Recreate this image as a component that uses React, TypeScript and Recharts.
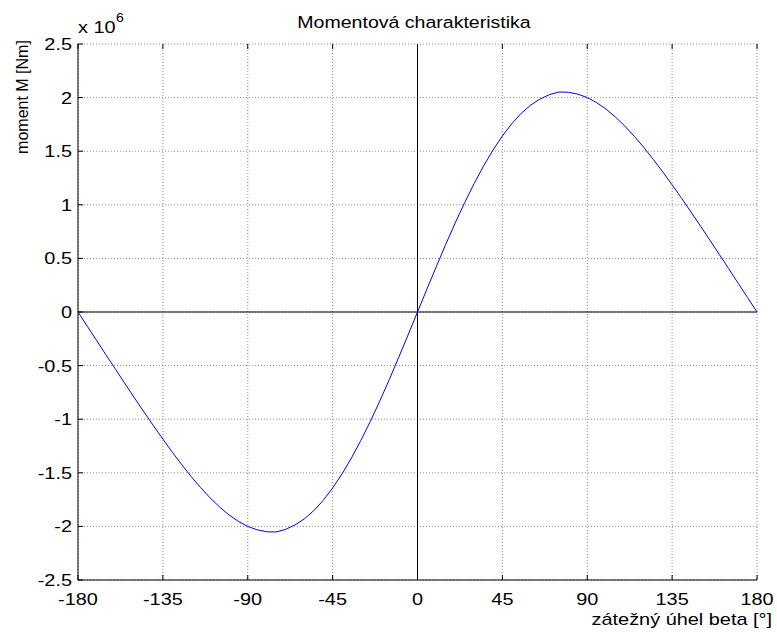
import React from "react";
import {
  LineChart,
  Line,
  XAxis,
  YAxis,
  CartesianGrid,
  ReferenceLine,
} from "recharts";

// zátežný úhel beta [°]
const BETA = [
  -180, -175, -170, -165, -160, -155, -150, -145, -140, -135, -130, -125,
  -120, -115, -110, -105, -100, -95, -90, -85, -80, -75, -70, -65,
  -60, -55, -50, -45, -40, -35, -30, -25, -20, -15, -10, -5,
  0, 5, 10, 15, 20, 25, 30, 35, 40, 45, 50, 55,
  60, 65, 70, 75, 80, 85, 90, 95, 100, 105, 110, 115,
  120, 125, 130, 135, 140, 145, 150, 155, 160, 165, 170, 175, 180,
];

// moment M [Nm] x 10^6
const MOMENT = [
  0, -0.135, -0.269, -0.404, -0.537, -0.671, -0.803, -0.933, -1.061, -1.186, -1.308, -1.424,
  -1.535, -1.638, -1.733, -1.818, -1.892, -1.953, -2.0, -2.032, -2.05, -2.052, -2.028, -1.987,
  -1.93, -1.853, -1.757, -1.642, -1.51, -1.361, -1.197, -1.02, -0.831, -0.632, -0.425, -0.214,
  0, 0.214, 0.425, 0.632, 0.831, 1.02, 1.197, 1.361, 1.51, 1.642, 1.757, 1.853,
  1.93, 1.987, 2.028, 2.052, 2.05, 2.032, 2.0, 1.953, 1.892, 1.818, 1.733, 1.638,
  1.535, 1.424, 1.308, 1.186, 1.061, 0.933, 0.803, 0.671, 0.537, 0.404, 0.269, 0.135, 0,
];

const X_TICKS = [-180, -135, -90, -45, 0, 45, 90, 135, 180];
const Y_TICKS = [-2.5, -2, -1.5, -1, -0.5, 0, 0.5, 1, 1.5, 2, 2.5];

const FONT = "'Liberation Sans', Arial, sans-serif";
const STRETCH = 1.17; // the source picture is a bit wider than tall

const data = BETA.map((b, i) => ({ beta: b, m: MOMENT[i] }));

function BottomTick(props: any) {
  const { x, y, payload } = props;
  return (
    <g>
      <line x1={x} x2={x} y1={y} y2={y - 5} stroke="#000" />
      <text
        transform={`translate(${x},${y + 25}) scale(${STRETCH},1)`}
        textAnchor="middle"
        fontSize={17}
        fontFamily={FONT}
        fill="#000"
      >
        {payload.value}
      </text>
    </g>
  );
}

function LeftTick(props: any) {
  const { x, y, payload } = props;
  return (
    <g>
      <line x1={x} x2={x + 5} y1={y} y2={y} stroke="#000" />
      <text
        transform={`translate(${x - 6},${y + 6}) scale(${STRETCH},1)`}
        textAnchor="end"
        fontSize={17}
        fontFamily={FONT}
        fill="#000"
      >
        {payload.value}
      </text>
    </g>
  );
}

function TopTick(props: any) {
  const { x, y } = props;
  return <line x1={x} x2={x} y1={y} y2={y + 5} stroke="#000" />;
}

function RightTick(props: any) {
  const { x, y } = props;
  return <line x1={x} x2={x - 5} y1={y} y2={y} stroke="#000" />;
}

export default function App() {
  return (
    <div style={{ position: "absolute", left: 0, top: 0, width: 777, height: 637, background: "#fff" }}>
      <LineChart
        width={777}
        height={637}
        data={data}
        margin={{ top: 34, right: 10, bottom: 27, left: 38 }}
      >
        <CartesianGrid
          stroke="#8c8c8c"
          strokeDasharray="1 2"
          horizontalValues={Y_TICKS}
          verticalValues={X_TICKS}
        />
        <XAxis
          dataKey="beta"
          type="number"
          domain={[-180, 180]}
          ticks={X_TICKS}
          interval={0}
          height={30}
          tickSize={0}
          tickMargin={0}
          tickLine={false}
          stroke="#000"
          tick={<BottomTick />}
        />
        <XAxis
          xAxisId="top"
          orientation="top"
          dataKey="beta"
          type="number"
          domain={[-180, 180]}
          ticks={X_TICKS}
          interval={0}
          height={10}
          tickSize={0}
          tickMargin={0}
          tickLine={false}
          axisLine={false}
          tick={<TopTick />}
        />
        <YAxis
          type="number"
          domain={[-2.5, 2.5]}
          ticks={Y_TICKS}
          interval={0}
          width={40}
          tickSize={0}
          tickMargin={0}
          tickLine={false}
          stroke="#000"
          tick={<LeftTick />}
        />
        <YAxis
          yAxisId="right"
          orientation="right"
          type="number"
          domain={[-2.5, 2.5]}
          ticks={Y_TICKS}
          interval={0}
          width={10}
          tickSize={0}
          tickMargin={0}
          tickLine={false}
          axisLine={false}
          tick={<RightTick />}
        />
        <ReferenceLine x={0} stroke="#000" />
        <ReferenceLine y={0} stroke="#000" />
        <Line
          dataKey="m"
          type="linear"
          stroke="#0000ff"
          strokeWidth={1}
          dot={false}
          isAnimationActive={false}
        />
      </LineChart>

      <svg
        width={777}
        height={637}
        style={{ position: "absolute", left: 0, top: 0, pointerEvents: "none" }}
      >
        <g fontFamily={FONT} fill="#000">
          <text transform="translate(414,28) scale(1.15,1)" textAnchor="middle" fontSize={17}>
            Momentová charakteristika
          </text>
          <text transform={`translate(78,33) scale(${STRETCH},1)`} fontSize={17}>
            x 10
          </text>
          <text transform={`translate(116,22) scale(${STRETCH},1)`} fontSize={12}>
            6
          </text>
          <text transform={`translate(772,625) scale(${STRETCH},1)`} textAnchor="end" fontSize={17}>
            zátežný úhel beta [°]
          </text>
          <text transform="translate(28,97) rotate(-90)" textAnchor="middle" fontSize={16}>
            moment M [Nm]
          </text>
        </g>
      </svg>
    </div>
  );
}
